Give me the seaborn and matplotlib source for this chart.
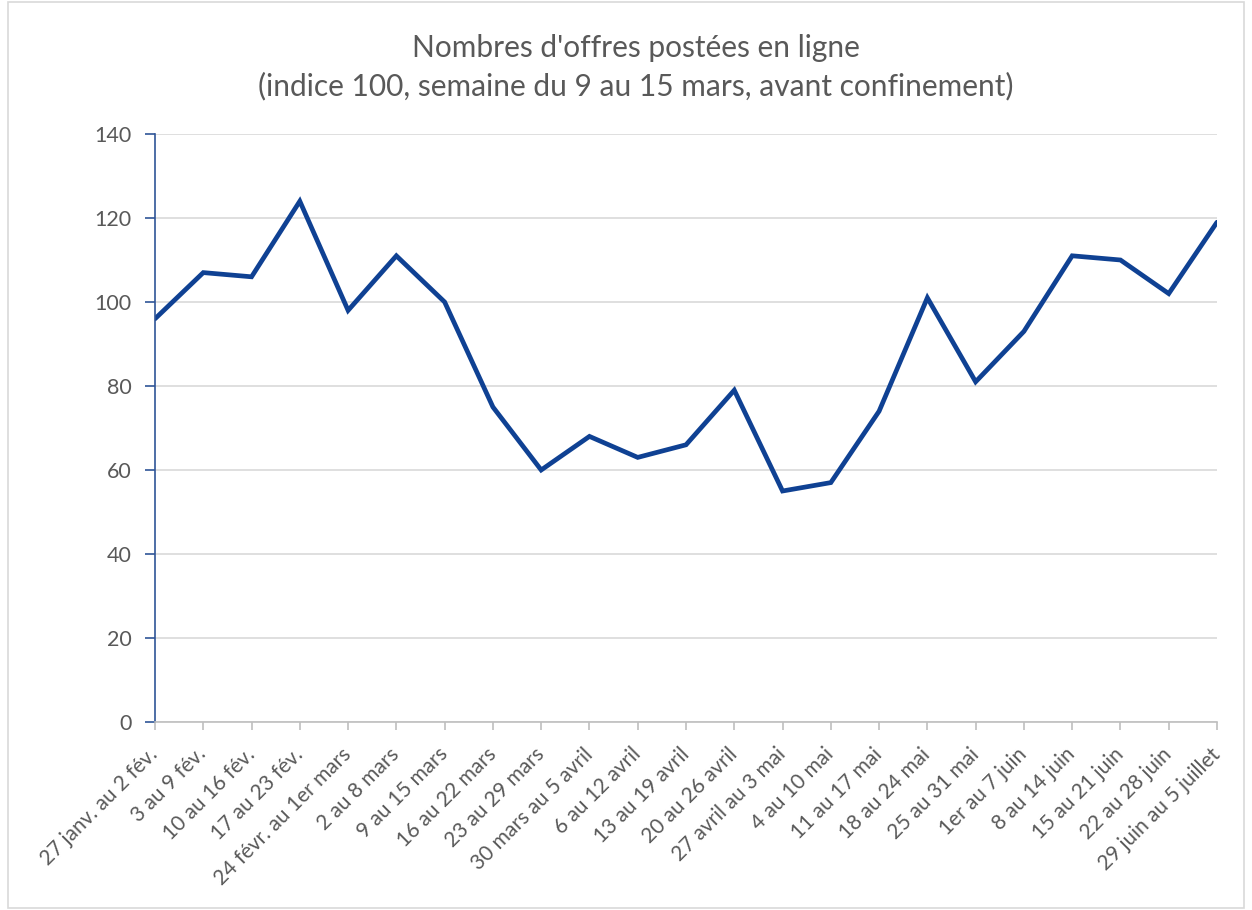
import matplotlib
matplotlib.use("Agg")
import matplotlib.pyplot as plt
import seaborn as sns
import pandas as pd
from matplotlib.patches import Rectangle
from matplotlib.transforms import ScaledTranslation

semaines = [
    "27 janv. au 2 fév.", "3 au 9 fév.", "10 au 16 fév.", "17 au 23 fév.",
    "24 févr. au 1er mars", "2 au 8 mars", "9 au 15 mars", "16 au 22 mars",
    "23 au 29 mars", "30 mars au 5 avril", "6 au 12 avril", "13 au 19 avril",
    "20 au 26 avril", "27 avril au 3 mai", "4 au 10 mai", "11 au 17 mai",
    "18 au 24 mai", "25 au 31 mai", "1er au 7 juin", "8 au 14 juin",
    "15 au 21 juin", "22 au 28 juin", "29 juin au 5 juillet",
]
indice = [96, 107, 106, 124, 98, 111, 100, 75, 60, 68, 63, 66, 79,
          55, 57, 74, 101, 81, 93, 111, 110, 102, 119]
y_ticks = [0, 20, 40, 60, 80, 100, 120, 140]

titre = "Nombres d'offres postées en ligne\n(indice 100, semaine du 9 au 15 mars, avant confinement)"

sns.set_theme(style="white")
plt.rcParams["font.family"] = ["Lato", "DejaVu Sans"]

df = pd.DataFrame({"pos": range(len(semaines)), "indice": indice})

fig = plt.figure(figsize=(12.52, 9.10), dpi=100)
ax = fig.add_axes([155 / 1252, 1 - 722 / 910, (1217 - 155) / 1252, (722 - 134) / 910])

# light frame around the chart area
fig.patches.append(Rectangle((8 / 1252, 0.002), 1 - 16 / 1252, 0.996,
                             transform=fig.transFigure, fill=False,
                             edgecolor="#D9D9D9", linewidth=1.2))

sns.lineplot(data=df, x="pos", y="indice", ax=ax, color="#0F4193",
             linewidth=3.4, solid_joinstyle="miter")

ax.set_xlim(0, len(semaines) - 1)
ax.set_ylim(0, 140)
ax.set_yticks(y_ticks)
ax.set_xticks(range(len(semaines)))
ax.set_xticklabels(semaines, rotation=45, ha="right", va="center",
                   rotation_mode="anchor", fontsize=15, color="#595959")
shift = ScaledTranslation(-2 / 100, 0, fig.dpi_scale_trans)
for lbl in ax.get_xticklabels():
    lbl.set_transform(lbl.get_transform() + shift)

ax.tick_params(axis="y", labelsize=15.5, labelcolor="#595959", length=7,
               color="#2F5597", width=1.2, left=True, pad=10)
ax.tick_params(axis="x", length=6, color="#BFBFBF", width=1.2, bottom=True, pad=15)
ax.set_xlabel("")
ax.set_ylabel("")

ax.grid(axis="y", color="#D9D9D9", linewidth=1.2)
ax.grid(axis="x", visible=False)
ax.set_axisbelow(True)
for side in ["top", "right"]:
    ax.spines[side].set_visible(False)
ax.spines["left"].set_color("#2F5597")
ax.spines["left"].set_linewidth(1.2)
ax.spines["bottom"].set_color("#BFBFBF")
ax.spines["bottom"].set_linewidth(1.2)

fig.text(0.508, 1 - 67 / 910, titre, ha="center", va="center",
         fontsize=21.5, color="#595959", linespacing=1.4)

fig.savefig("out.png", dpi=100)
